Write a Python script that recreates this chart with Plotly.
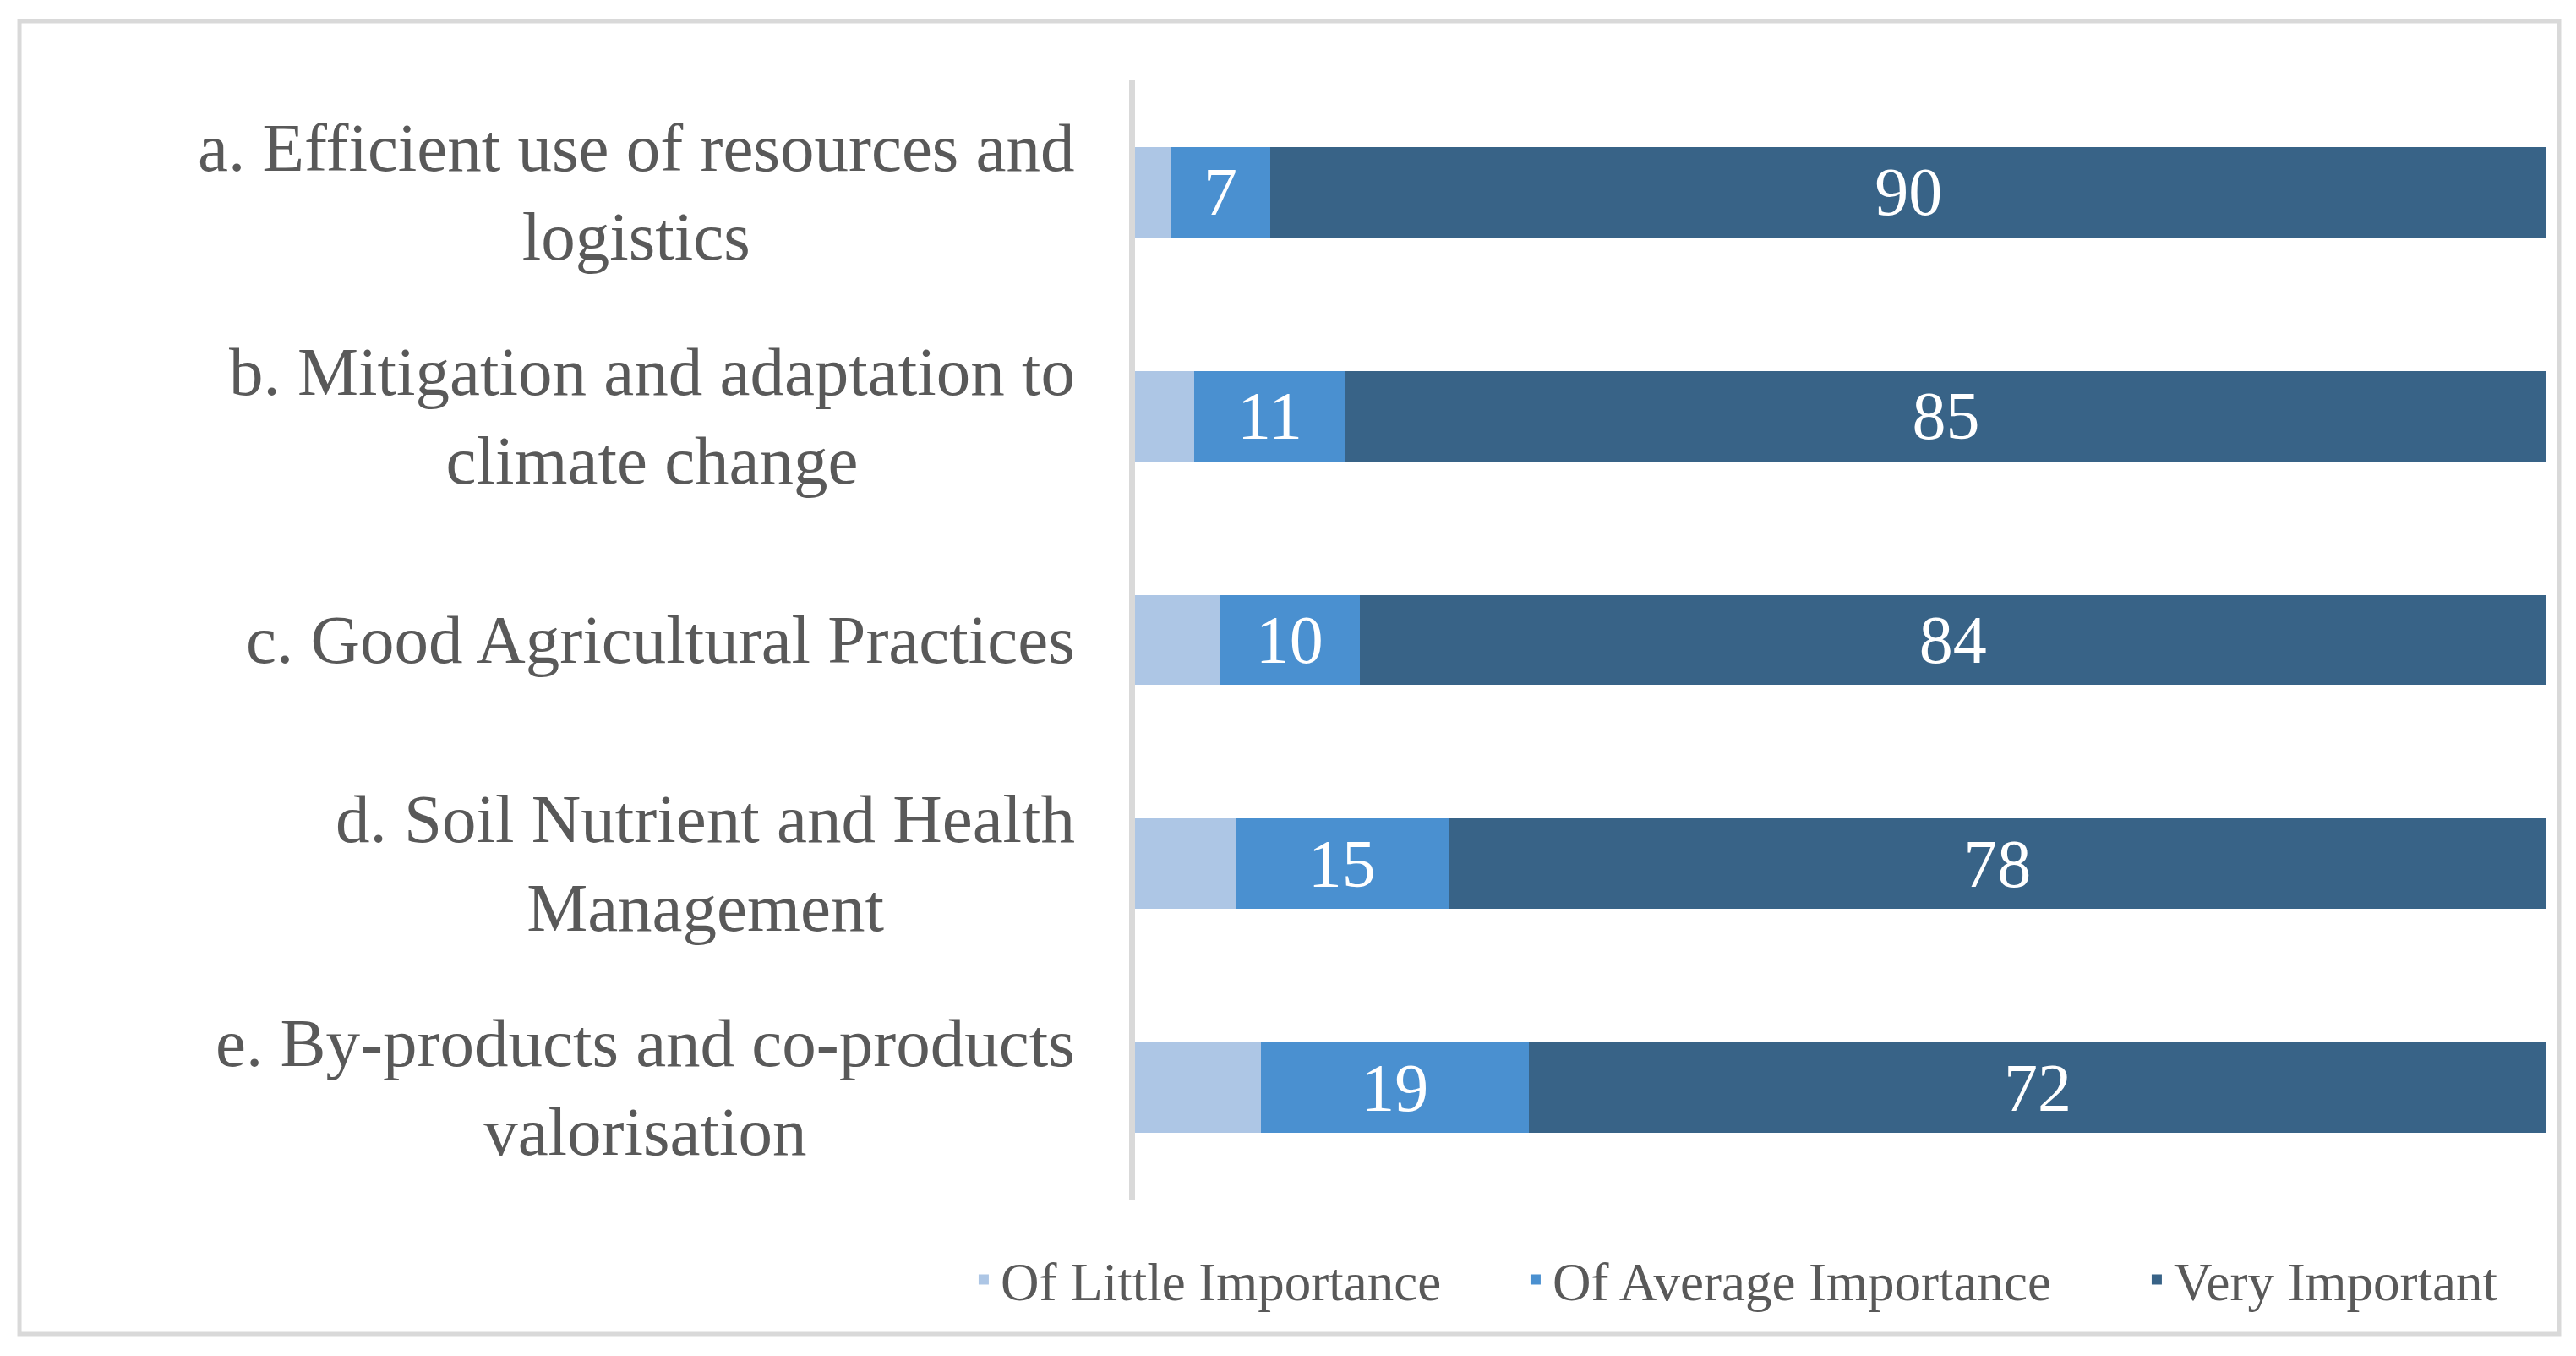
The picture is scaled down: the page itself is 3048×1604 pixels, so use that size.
import plotly.graph_objects as go

categories = [
    "a. Efficient use of resources and logistics",
    "b. Mitigation and adaptation to climate change",
    "c. Good Agricultural Practices",
    "d. Soil Nutrient and Health Management",
    "e. By-products and co-products valorisation",
]
category_labels = [
    "a. Efficient use of resources and<br>logistics",
    "b. Mitigation and adaptation to<br>climate change",
    "c. Good Agricultural Practices",
    "d. Soil Nutrient and Health<br>Management",
    "e. By-products and co-products<br>valorisation",
]
series_names = ["Of Little Importance", "Of Average Importance", "Very Important"]
# percentages (100% stacked); data labels show rounded values
little = [2.5, 4.2, 6.0, 7.1, 8.9]
average = [7.1, 10.7, 9.9, 15.1, 19.0]
very = [90.4, 85.1, 84.1, 77.8, 72.1]

colors = ["#ADC6E5", "#4A90D0", "#386387"]
FONT = "Liberation Serif"
TEXT_COLOR = "#595959"

fig = go.Figure()
fig.add_trace(go.Bar(
    y=categories, x=little, orientation="h", name=series_names[0],
    marker=dict(color=colors[0], line=dict(width=0)),
    legendwidth=608, hoverinfo="skip",
))
fig.add_trace(go.Bar(
    y=categories, x=average, orientation="h", name=series_names[1],
    marker=dict(color=colors[1], line=dict(width=0)),
    texttemplate="%{x:.0f}", textposition="inside",
    insidetextanchor="middle", textangle=0,
    textfont=dict(family=FONT, size=80, color="white"),
    legendwidth=690, hoverinfo="skip",
))
fig.add_trace(go.Bar(
    y=categories, x=very, orientation="h", name=series_names[2],
    marker=dict(color=colors[2], line=dict(width=0)),
    texttemplate="%{x:.0f}", textposition="inside",
    insidetextanchor="middle", textangle=0,
    textfont=dict(family=FONT, size=80, color="white"),
    hoverinfo="skip",
))

annotations = []
for cat, lab in zip(categories, category_labels):
    annotations.append(dict(
        x=0, xref="paper", y=cat, yref="y", text=lab, showarrow=False,
        xanchor="right", yanchor="middle", align="center", xshift=-69,
        font=dict(family=FONT, size=81, color=TEXT_COLOR),
    ))

fig.update_layout(
    width=3032, height=1588,
    barmode="stack", bargap=0.596,
    paper_bgcolor="white", plot_bgcolor="white",
    margin=dict(l=1335, r=27, t=87, b=177, autoexpand=False),
    font=dict(family=FONT, color=TEXT_COLOR),
    xaxis=dict(range=[0, 100], visible=False, fixedrange=True),
    yaxis=dict(
        categoryorder="array", categoryarray=categories, autorange="reversed",
        showticklabels=False, ticks="", showgrid=False, zeroline=False,
        showline=True, linecolor="#D9D9D9", linewidth=7,
    ),
    showlegend=True,
    legend=dict(
        orientation="h", x=-0.1192, xanchor="left", y=-0.0714, yanchor="middle",
        font=dict(family=FONT, size=63, color=TEXT_COLOR),
        traceorder="normal", bgcolor="rgba(0,0,0,0)",
    ),
    annotations=annotations,
    shapes=[dict(
        type="rect", xref="paper", yref="paper",
        x0=-0.7904, x1=1.00898, y0=-0.1201, y1=1.0529,
        line=dict(color="#D9D9D9", width=5), fillcolor="rgba(0,0,0,0)", layer="below",
    )],
)

fig.write_html("out.html")
